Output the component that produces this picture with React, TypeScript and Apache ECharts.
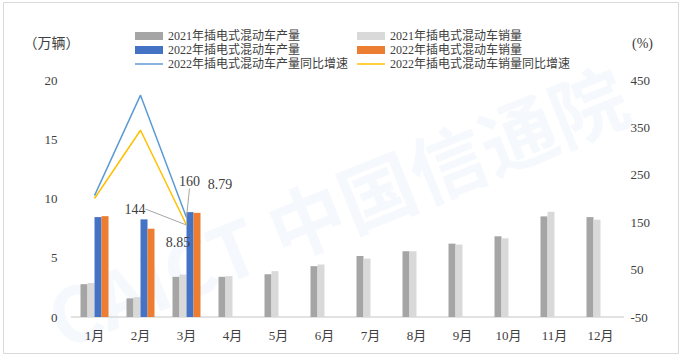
import React, { useEffect, useRef } from "react";
import * as echarts from "echarts";

const categories = ["1月", "2月", "3月", "4月", "5月", "6月", "7月", "8月", "9月", "10月", "11月", "12月"];
const prod2021 = [2.77, 1.57, 3.39, 3.39, 3.61, 4.29, 5.15, 5.55, 6.19, 6.81, 8.49, 8.43];
const sales2021 = [2.87, 1.68, 3.58, 3.45, 3.87, 4.43, 4.93, 5.55, 6.11, 6.64, 8.88, 8.21];
const prod2022 = [8.43, 8.24, 8.85];
const sales2022 = [8.51, 7.45, 8.79];
const prodGrowth2022 = [206, 418, 160];
const salesGrowth2022 = [200, 344, 144];
const leftTicks = { min: 0, max: 20, interval: 5 };
const rightTicks = { min: -50, max: 450, interval: 100 };

const names = [
  "2021年插电式混动车产量",
  "2021年插电式混动车销量",
  "2022年插电式混动车产量",
  "2022年插电式混动车销量",
  "2022年插电式混动车产量同比增速",
  "2022年插电式混动车销量同比增速",
];

const FONT = "'Liberation Serif', 'Noto Sans CJK SC', serif";
const TXT = "#404040";
const LINE_ICON = "path://M0,0H28V1.5H0Z";

export default function App() {
  const ref = useRef<HTMLDivElement>(null);
  useEffect(() => {
    if (!ref.current) return;
    const chart = echarts.init(ref.current, null, { renderer: "svg" });
    const last = prod2022.length - 1;
    const barLabelData = (arr: number[], offset: number[]) =>
      arr.map((v, i) =>
        i === last
          ? { value: v, label: { show: true, position: "top", offset, fontSize: 14, color: TXT, fontFamily: FONT } }
          : v
      );
    const lineLabelData = (arr: number[], position: string) =>
      arr.map((v, i) =>
        i === last
          ? {
              value: v,
              label: { show: true, position, fontSize: 14, color: TXT, fontFamily: FONT },
              labelLine: { show: true, lineStyle: { color: "#a5a5a5", width: 1 } },
            }
          : { value: v, label: { show: false }, labelLine: { show: false } }
      );
    const legendBase = {
      orient: "vertical" as const,
      top: 25,
      itemWidth: 28,
      itemHeight: 8,
      itemGap: 2,
      textStyle: { fontSize: 12, color: TXT, fontFamily: FONT },
    };
    chart.setOption({
      animation: false,
      textStyle: { fontFamily: FONT },
      graphic: [
        {
          type: "rect",
          shape: { x: 3.5, y: 2.5, width: 675, height: 351 },
          style: { fill: "none", stroke: "#d9d9d9", lineWidth: 1 },
          silent: true,
        },
        {
          type: "text",
          x: 36,
          y: 285,
          rotation: (22 * Math.PI) / 180,
          style: {
            text: "CAICT 中国信通院",
            fill: "rgba(120,160,210,0.07)",
            font: "bold 76px 'Noto Sans CJK SC', sans-serif",
          },
          silent: true,
          z: -1,
        },
      ],
      legend: [
        {
          ...legendBase,
          left: 130,
          data: [
            { name: names[0], icon: "rect" },
            { name: names[2], icon: "rect" },
            { name: names[4], icon: LINE_ICON },
          ],
        },
        {
          ...legendBase,
          left: 352,
          data: [
            { name: names[1], icon: "rect" },
            { name: names[3], icon: "rect" },
            { name: names[5], icon: LINE_ICON },
          ],
        },
      ],
      grid: { left: 71.5, right: 58.5, top: 80, bottom: 39 },
      xAxis: {
        type: "category",
        data: categories,
        axisLine: { lineStyle: { color: "#d9d9d9", width: 1.5 } },
        axisTick: { show: false },
        axisLabel: { color: TXT, fontSize: 13, margin: 12, fontFamily: FONT },
      },
      yAxis: [
        {
          type: "value",
          ...leftTicks,
          name: "（万辆）",
          nameLocation: "end",
          nameGap: 30,
          nameTextStyle: { color: TXT, fontSize: 14, padding: [0, 40, 0, 0], fontFamily: FONT },
          axisLine: { show: false },
          axisTick: { show: false },
          splitLine: { show: false },
          axisLabel: { color: TXT, fontSize: 13, margin: 14, fontFamily: FONT },
        },
        {
          type: "value",
          ...rightTicks,
          name: "(%)",
          nameLocation: "end",
          nameGap: 30,
          nameTextStyle: { color: TXT, fontSize: 14, padding: [0, 0, 0, 38], fontFamily: FONT },
          axisLine: { show: false },
          axisTick: { show: false },
          splitLine: { show: false },
          axisLabel: { color: TXT, fontSize: 13, margin: 7, fontFamily: FONT },
        },
      ],
      series: [
        { name: names[0], type: "bar", data: prod2021, barWidth: 7, barGap: "0%", itemStyle: { color: "#a5a5a5" } },
        { name: names[1], type: "bar", data: sales2021, barWidth: 7, barGap: "0%", itemStyle: { color: "#d9d9d9" } },
        {
          name: names[2],
          type: "bar",
          data: barLabelData(prod2022, [-12, 42]),
          barWidth: 7,
          barGap: "0%",
          itemStyle: { color: "#4472c4" },
        },
        {
          name: names[3],
          type: "bar",
          data: barLabelData(sales2022, [23, -16]),
          barWidth: 7,
          barGap: "0%",
          itemStyle: { color: "#ed7d31" },
        },
        {
          name: names[4],
          type: "line",
          yAxisIndex: 1,
          data: lineLabelData(prodGrowth2022, "top"),
          symbol: "circle",
          symbolSize: 0.1,
          showSymbol: true,
          lineStyle: { color: "#5b9bd5", width: 1.5 },
          itemStyle: { color: "#5b9bd5" },
          labelLayout: (p: any) => (p.dataIndex === last ? { dx: 3, dy: -24 } : {}),
        },
        {
          name: names[5],
          type: "line",
          yAxisIndex: 1,
          data: lineLabelData(salesGrowth2022, "left"),
          symbol: "circle",
          symbolSize: 0.1,
          showSymbol: true,
          lineStyle: { color: "#ffc000", width: 1.5 },
          itemStyle: { color: "#ffc000" },
          labelLayout: (p: any) => (p.dataIndex === last ? { dx: -36, dy: -16 } : {}),
        },
      ],
    });
    return () => chart.dispose();
  }, []);
  return (
    <div
      ref={ref}
      style={{ position: "absolute", left: 0, top: 0, width: 682, height: 356, background: "#fff" }}
    />
  );
}
